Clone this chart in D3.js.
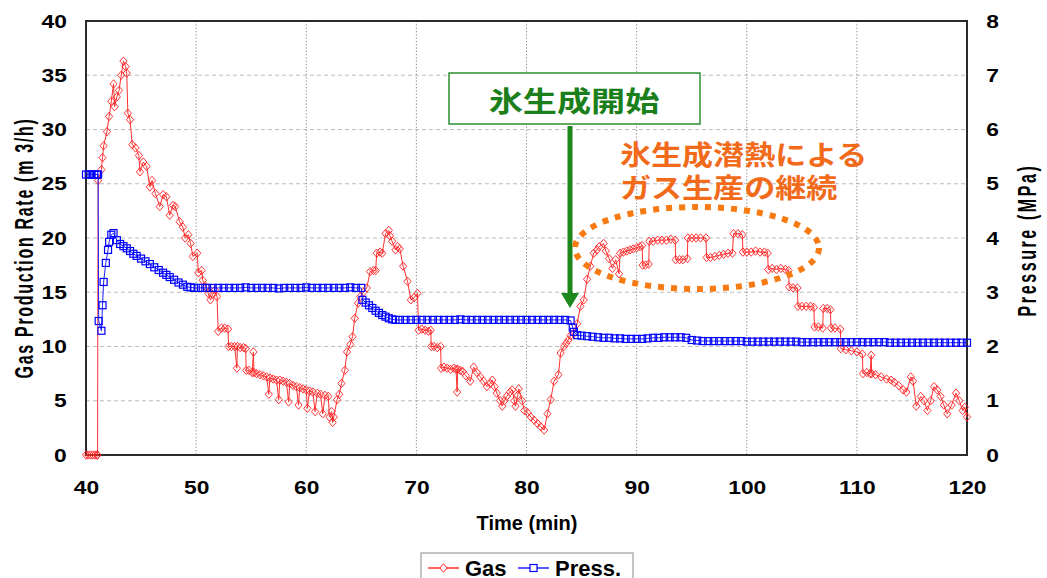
<!DOCTYPE html>
<html>
<head>
<meta charset="utf-8">
<script src="https://cdn.jsdelivr.net/npm/d3@7/dist/d3.min.js"></script>
<style>
  body { margin: 0; background: #fff; }
  text { font-family: 'Liberation Sans', Arial, sans-serif; font-weight: bold; }
  .jp { font-family: 'Noto Sans CJK JP', sans-serif; font-weight: bold; }
</style>
</head>
<body>
<script>
// time (min), gas production rate (m3/h)
const gasPoints = [
  [40.0, 0], [40.2, 0], [40.4, 0], [40.6, 0], [40.8, 0], [41.0, 0], [41.05, 0],
  [41.1, 25.3], [41.4, 26.3], [41.5, 27.4], [41.6, 28.5], [41.9, 29.8], [42.1, 31.2], [42.3, 32.6],
  [42.5, 34.2], [42.6, 32.1], [42.8, 33.0], [43.0, 33.6], [43.2, 35.0], [43.4, 36.3], [43.6, 35.8],
  [43.7, 35.2], [43.8, 31.5], [44.0, 30.9], [44.2, 28.6], [44.5, 28.3], [44.8, 27.6], [44.9, 26.1],
  [45.2, 27.0], [45.5, 26.6], [45.8, 24.7], [46.0, 25.3], [46.3, 24.1], [46.7, 22.9], [47.0, 24.0],
  [47.3, 23.8], [47.6, 22.1], [47.9, 23.0], [48.1, 22.9], [48.5, 21.5], [48.8, 21.0], [49.0, 20.0],
  [49.3, 20.3], [49.5, 19.5], [49.7, 18.3], [50.1, 18.6], [50.2, 16.8], [50.5, 17.0], [50.6, 16.1],
  [50.9, 15.5], [51.1, 14.9], [51.3, 14.3], [51.5, 14.8], [51.7, 15.2], [51.9, 14.6],
  [52.0, 11.4], [52.3, 11.7], [52.6, 11.7], [52.9, 11.6],
  [52.95, 10.0], [53.2, 10.0], [53.5, 10.0], [53.7, 8.0], [53.75, 10.0], [54.0, 9.9], [54.3, 9.9], [54.5, 9.8],
  [54.55, 7.8], [54.8, 7.8], [55.1, 7.6], [55.2, 9.5], [55.25, 7.6], [55.5, 7.5], [55.8, 7.4], [56.1, 7.3],
  [56.4, 7.2], [56.6, 5.6], [56.7, 7.1], [57.0, 7.0], [57.3, 6.9], [57.5, 5.1], [57.6, 6.9], [57.9, 6.8],
  [58.2, 6.7], [58.4, 4.9], [58.5, 6.6], [58.8, 6.4], [59.1, 6.3], [59.3, 4.6], [59.4, 6.2], [59.7, 6.1],
  [60.0, 6.0], [60.1, 4.3], [60.3, 5.9], [60.6, 5.8], [60.8, 4.0], [61.0, 5.7], [61.3, 5.6], [61.5, 3.8],
  [61.7, 5.5], [62.0, 5.4], [62.1, 3.5], [62.3, 4.0], [62.4, 3.0], [62.5, 3.5],
  [62.8, 5.1], [63.0, 5.6], [63.2, 6.6], [63.5, 7.8], [63.7, 9.5], [64.0, 10.2], [64.2, 10.9], [64.4, 12.6],
  [64.7, 14.0], [64.9, 14.6], [65.2, 15.0], [65.5, 15.4], [65.8, 16.9], [66.1, 17.0], [66.3, 17.0],
  [66.4, 18.6], [66.7, 18.7], [66.9, 18.6], [67.2, 20.4], [67.5, 20.7], [67.6, 20.2], [67.8, 19.7],
  [68.1, 18.9], [68.3, 19.2], [68.5, 19.0], [68.8, 17.4], [69.2, 16.0], [69.5, 14.3], [69.8, 14.5],
  [70.1, 14.9], [70.2, 11.5], [70.5, 11.6], [70.8, 11.5], [71.1, 11.4], [71.3, 11.5],
  [71.35, 10.0], [71.6, 10.0], [71.9, 9.9], [72.2, 10.0],
  [72.25, 8.0], [72.5, 8.1], [72.8, 8.0], [73.1, 7.9], [73.4, 8.0], [73.6, 7.9], [73.7, 5.8], [73.75, 7.9],
  [74.0, 7.8], [74.2, 7.7], [74.5, 7.3], [74.9, 6.8], [75.2, 8.1], [75.5, 7.6], [75.8, 7.2], [76.1, 6.8],
  [76.4, 6.3], [76.7, 6.6], [76.9, 6.9], [77.1, 6.3], [77.3, 5.7], [77.6, 5.0], [77.8, 4.5], [78.0, 5.0],
  [78.2, 5.4], [78.5, 5.8], [78.7, 6.0], [78.9, 5.0], [79.0, 4.5], [79.2, 5.5], [79.3, 6.1], [79.6, 5.0],
  [79.8, 4.1], [80.1, 3.9], [80.4, 3.5], [80.7, 3.2], [81.0, 2.9], [81.3, 2.6], [81.6, 2.3],
  [81.9, 3.8], [82.2, 5.1], [82.5, 6.8], [82.9, 7.4], [83.1, 9.4], [83.4, 10.0], [83.6, 10.3], [83.8, 10.6],
  [84.0, 11.0], [84.3, 11.2], [84.6, 12.1], [84.9, 13.7], [85.2, 14.3], [85.5, 16.2], [85.8, 17.4],
  [86.1, 18.6], [86.4, 18.9], [86.6, 19.2], [87.0, 19.5], [87.2, 18.8], [87.5, 18.1], [87.8, 17.2],
  [88.1, 18.0], [88.4, 16.7], [88.5, 18.6], [88.8, 18.7], [89.1, 18.8], [89.4, 18.9], [89.7, 19.0],
  [90.0, 19.1], [90.3, 19.2], [90.5, 19.3], [90.55, 17.5], [90.8, 17.5], [91.1, 17.6],
  [91.15, 19.7], [91.5, 19.7], [91.9, 19.8], [92.3, 19.8], [92.7, 19.8], [93.1, 19.9], [93.5, 19.8],
  [93.55, 18.0], [93.9, 18.0], [94.2, 18.0], [94.6, 18.1],
  [94.65, 20.0], [95.0, 20.0], [95.4, 20.0], [95.8, 20.0], [96.3, 20.0],
  [96.35, 18.2], [96.7, 18.2], [97.1, 18.3], [97.5, 18.4], [97.9, 18.5], [98.3, 18.6], [98.7, 18.6],
  [98.8, 20.4], [99.2, 20.4], [99.6, 20.3],
  [99.65, 18.7], [100.0, 18.7], [100.4, 18.7], [100.8, 18.8], [101.2, 18.7], [101.6, 18.7], [101.9, 18.6],
  [101.95, 17.1], [102.3, 17.2], [102.7, 17.1], [103.1, 17.2], [103.5, 17.1], [103.8, 17.0],
  [103.85, 15.5], [104.2, 15.4], [104.6, 15.4],
  [104.65, 13.7], [105.0, 13.7], [105.4, 13.7], [105.8, 13.7], [106.1, 13.6],
  [106.15, 11.8], [106.5, 11.8], [106.9, 11.7], [106.95, 13.5], [107.3, 13.5], [107.6, 13.4],
  [107.65, 11.7], [108.0, 11.7], [108.5, 11.6],
  [108.55, 9.8], [109.0, 9.7], [109.5, 9.6], [110.0, 9.5], [110.5, 9.3],
  [110.55, 7.5], [110.9, 7.6], [111.2, 7.5], [111.3, 9.2], [111.35, 7.5], [111.7, 7.4], [112.2, 7.2],
  [112.7, 7.0], [113.1, 6.9], [113.4, 6.7], [113.8, 6.4], [114.2, 6.0], [114.5, 5.8], [114.9, 7.2],
  [115.1, 6.8], [115.4, 4.5], [115.8, 5.4], [116.1, 5.0], [116.4, 4.1], [116.7, 5.0], [117.0, 6.3],
  [117.3, 6.0], [117.6, 5.4], [117.9, 4.6], [118.2, 3.8], [118.6, 4.6], [119.0, 5.7], [119.3, 5.0],
  [119.6, 4.1], [119.8, 4.4], [120.0, 3.5]
]

// time (min), pressure (MPa)
const pressPoints = [
  [40.0, 5.17], [40.25, 5.17], [40.5, 5.17], [40.75, 5.17], [41.0, 5.17], [41.1, 5.17],
  [41.15, 2.47], [41.4, 2.29], [41.5, 2.76], [41.6, 3.19], [41.8, 3.54], [42.0, 3.78], [42.1, 3.93],
  [42.3, 4.06], [42.5, 4.09], [42.8, 3.96], [43.1, 3.89], [43.4, 3.85], [43.7, 3.81], [44.0, 3.76],
  [44.3, 3.71], [44.6, 3.67], [45.0, 3.62], [45.4, 3.57], [45.8, 3.52], [46.2, 3.46], [46.6, 3.41],
  [47.0, 3.36], [47.3, 3.32], [47.6, 3.28], [48.0, 3.23], [48.4, 3.18], [48.8, 3.14], [49.2, 3.10],
  [49.5, 3.09], [49.8, 3.08], [50.2, 3.08], [50.6, 3.08], [51.0, 3.08], [51.5, 3.08], [52.0, 3.08],
  [52.5, 3.08], [53.0, 3.08], [53.5, 3.08], [54.0, 3.08], [54.5, 3.09], [55.0, 3.08], [55.5, 3.08],
  [56.0, 3.08], [56.5, 3.08], [57.0, 3.08], [57.5, 3.07], [58.0, 3.08], [58.5, 3.08], [59.0, 3.08],
  [59.5, 3.08], [60.0, 3.09], [60.5, 3.08], [61.0, 3.08], [61.5, 3.08], [62.0, 3.08], [62.5, 3.08],
  [63.0, 3.08], [63.5, 3.08], [64.0, 3.09], [64.5, 3.08], [65.0, 3.08],
  [65.1, 2.86], [65.4, 2.81], [65.7, 2.76], [66.0, 2.71], [66.3, 2.66], [66.6, 2.62], [66.9, 2.58],
  [67.2, 2.55], [67.5, 2.52], [67.8, 2.50], [68.1, 2.49], [68.5, 2.49], [69.0, 2.49], [69.5, 2.49],
  [70.0, 2.49], [70.5, 2.49], [71.0, 2.49], [71.5, 2.49], [72.0, 2.49], [72.5, 2.49], [73.0, 2.49],
  [73.5, 2.49], [74.0, 2.50], [74.5, 2.49], [75.0, 2.49], [75.5, 2.49], [76.0, 2.49], [76.5, 2.49],
  [77.0, 2.49], [77.5, 2.49], [78.0, 2.49], [78.5, 2.49], [79.0, 2.49], [79.5, 2.49], [80.0, 2.49],
  [80.5, 2.49], [81.0, 2.49], [81.5, 2.49], [82.0, 2.49], [82.5, 2.49], [83.0, 2.49], [83.5, 2.49],
  [84.0, 2.48], [84.2, 2.35], [84.3, 2.27], [84.6, 2.21], [85.0, 2.20], [85.5, 2.19], [86.0, 2.18],
  [86.5, 2.17], [87.0, 2.16], [87.5, 2.16], [88.0, 2.15], [88.5, 2.15], [89.0, 2.14], [89.5, 2.14],
  [90.0, 2.14], [90.5, 2.14], [91.0, 2.15], [91.5, 2.16], [92.0, 2.16], [92.5, 2.17], [93.0, 2.17],
  [93.5, 2.17], [94.0, 2.17], [94.5, 2.16], [95.0, 2.12], [95.5, 2.11], [96.0, 2.10], [96.5, 2.10],
  [97.0, 2.10], [97.5, 2.10], [98.0, 2.10], [98.5, 2.10], [99.0, 2.10], [99.5, 2.10], [100.0, 2.09],
  [100.5, 2.09], [101.0, 2.09], [101.5, 2.09], [102.0, 2.09], [102.5, 2.09], [103.0, 2.09], [103.5, 2.09],
  [104.0, 2.09], [104.5, 2.09], [105.0, 2.08], [105.5, 2.08], [106.0, 2.08], [106.5, 2.08], [107.0, 2.08],
  [107.5, 2.08], [108.0, 2.08], [108.5, 2.08], [109.0, 2.08], [109.5, 2.08], [110.0, 2.08], [110.5, 2.08],
  [111.0, 2.08], [111.5, 2.08], [112.0, 2.08], [112.5, 2.08], [113.0, 2.07], [113.5, 2.07], [114.0, 2.07],
  [114.5, 2.07], [115.0, 2.07], [115.5, 2.07], [116.0, 2.07], [116.5, 2.07], [117.0, 2.07], [117.5, 2.07],
  [118.0, 2.07], [118.5, 2.07], [119.0, 2.07], [119.5, 2.07], [120.0, 2.07]
]

const timeTicks = [40, 50, 60, 70, 80, 90, 100, 110, 120]
const gasTicks = [0, 5, 10, 15, 20, 25, 30, 35, 40]
const pressTicks = [0, 1, 2, 3, 4, 5, 6, 7, 8]
const seriesNames = ['Gas', 'Press.']

function main ({ w, h, left, right, top, bottom }) {
  const svg = d3.select('body')
    .append('svg')
    .attr('width', w)
    .attr('height', h)

  svg.append('rect')
    .attr('width', w)
    .attr('height', h)
    .attr('fill', '#fff')

  const x = d3.scaleLinear().domain([40, 120]).range([left, right])
  const yGas = d3.scaleLinear().domain([0, 40]).range([bottom, top])
  const yPress = d3.scaleLinear().domain([0, 8]).range([bottom, top])

  // grid
  svg.append('g')
    .selectAll('line')
    .data(gasTicks.slice(1, -1))
    .join('line')
    .attr('x1', left).attr('x2', right)
    .attr('y1', d => yGas(d)).attr('y2', d => yGas(d))
    .attr('stroke', '#bdbdbd')
    .attr('stroke-dasharray', '4,3')

  svg.append('g')
    .selectAll('line')
    .data(timeTicks.slice(1, -1))
    .join('line')
    .attr('x1', d => x(d)).attr('x2', d => x(d))
    .attr('y1', top).attr('y2', bottom)
    .attr('stroke', '#8c8c8c')
    .attr('stroke-dasharray', '1.3,2')

  // axes
  const stretch = 'scale(1.2,1)'
  const gL = svg.append('g')
    .attr('transform', `translate(${left},0)`)
    .call(d3.axisLeft(yGas).tickValues(gasTicks).tickSize(0).tickPadding(16))
  const gR = svg.append('g')
    .attr('transform', `translate(${right},0)`)
    .call(d3.axisRight(yPress).tickValues(pressTicks).tickSize(0).tickPadding(16))
  const gB = svg.append('g')
    .attr('transform', `translate(0,${bottom})`)
    .call(d3.axisBottom(x).tickValues(timeTicks).tickSize(0).tickPadding(26))

  ;[gL, gR, gB].forEach(g => {
    g.select('.domain').remove()
    g.selectAll('text')
      .attr('font-size', 19)
      .attr('font-family', "'Liberation Sans', Arial, sans-serif")
      .attr('font-weight', 'bold')
      .attr('fill', '#000')
      .attr('transform', stretch)
  })

  // frame
  svg.append('rect')
    .attr('x', left).attr('y', top)
    .attr('width', right - left).attr('height', bottom - top)
    .attr('fill', 'none')
    .attr('stroke', '#2b2b2b')
    .attr('stroke-width', 2)

  // axis titles
  svg.append('text')
    .attr('transform', 'translate(25,248) rotate(-90) scale(1,1.6)')
    .attr('text-anchor', 'middle')
    .attr('dominant-baseline', 'central')
    .attr('font-size', 16)
    .attr('letter-spacing', 1.7)
    .text('Gas Production Rate (m 3/h)')

  svg.append('text')
    .attr('transform', 'translate(1028,240) rotate(-90) scale(1,1.6)')
    .attr('text-anchor', 'middle')
    .attr('dominant-baseline', 'central')
    .attr('font-size', 16)
    .attr('letter-spacing', 2.6)
    .text('Pressure (MPa)')

  svg.append('text')
    .attr('x', 527).attr('y', 530)
    .attr('text-anchor', 'middle')
    .attr('font-size', 20)
    .text('Time (min)')

  // series
  const diamond = 'M0,-4.2L3.6,0L0,4.2L-3.6,0Z'
  const line = d3.line()

  svg.append('path')
    .datum(gasPoints)
    .attr('d', line.x(d => x(d[0])).y(d => yGas(d[1])))
    .attr('fill', 'none')
    .attr('stroke', '#ff3030')
    .attr('stroke-width', 1)

  svg.append('g')
    .selectAll('path')
    .data(gasPoints)
    .join('path')
    .attr('transform', d => `translate(${x(d[0])},${yGas(d[1])})`)
    .attr('d', diamond)
    .attr('fill', 'none')
    .attr('stroke', '#ff2020')
    .attr('stroke-width', 0.9)

  svg.append('path')
    .datum(pressPoints)
    .attr('d', d3.line().x(d => x(d[0])).y(d => yPress(d[1])))
    .attr('fill', 'none')
    .attr('stroke', '#2020ff')
    .attr('stroke-width', 1)

  svg.append('g')
    .selectAll('rect')
    .data(pressPoints)
    .join('rect')
    .attr('x', d => x(d[0]) - 3.5)
    .attr('y', d => yPress(d[1]) - 3.5)
    .attr('width', 7)
    .attr('height', 7)
    .attr('fill', 'none')
    .attr('stroke', '#0000ff')
    .attr('stroke-width', 1.2)

  // annotations
  svg.append('rect')
    .attr('x', 449).attr('y', 73)
    .attr('width', 251).attr('height', 51)
    .attr('fill', '#fff')
    .attr('stroke', '#2f8f2f')
    .attr('stroke-width', 1.5)

  svg.append('text')
    .attr('class', 'jp')
    .attr('transform', 'translate(574,100) scale(1.22,1)')
    .attr('text-anchor', 'middle')
    .attr('dominant-baseline', 'central')
    .attr('font-size', 28)
    .attr('fill', '#1b7f1b')
    .text('氷生成開始')

  svg.append('line')
    .attr('x1', 570).attr('x2', 570)
    .attr('y1', 126).attr('y2', 294)
    .attr('stroke', '#1d861d')
    .attr('stroke-width', 5)

  svg.append('path')
    .attr('d', 'M561,293L579,293L570,308Z')
    .attr('fill', '#1d861d')

  const orangeLines = ['氷生成潜熱による', 'ガス生産の継続']
  svg.append('g')
    .selectAll('text')
    .data(orangeLines)
    .join('text')
    .attr('class', 'jp')
    .attr('transform', (d, i) => `translate(620,${165 + i * 33}) scale(1.15,1)`)
    .attr('font-size', 27)
    .attr('fill', '#f26b1b')
    .text(d => d)

  svg.append('ellipse')
    .attr('cx', 697).attr('cy', 248)
    .attr('rx', 122).attr('ry', 41)
    .attr('fill', 'none')
    .attr('stroke', '#f77a12')
    .attr('stroke-width', 6)
    .attr('stroke-dasharray', '6,7')

  // legend
  const legend = svg.append('g')
  legend.append('rect')
    .attr('x', 421).attr('y', 553)
    .attr('width', 212).attr('height', 40)
    .attr('fill', '#fff')
    .attr('stroke', '#8a8a8a')

  const items = legend.selectAll('g')
    .data(seriesNames)
    .join('g')
    .attr('transform', (d, i) => `translate(${i === 0 ? 428 : 518},568)`)

  items.append('line')
    .attr('x1', 0).attr('x2', 31)
    .attr('stroke', (d, i) => i === 0 ? '#ff3030' : '#2020ff')
    .attr('stroke-width', 1.5)

  items.filter((d, i) => i === 0)
    .append('path')
    .attr('transform', 'translate(15.5,0)')
    .attr('d', diamond)
    .attr('fill', '#fff')
    .attr('stroke', '#ff2020')

  items.filter((d, i) => i === 1)
    .append('rect')
    .attr('x', 12).attr('y', -3.5)
    .attr('width', 7).attr('height', 7)
    .attr('fill', '#fff')
    .attr('stroke', '#0000ff')
    .attr('stroke-width', 1.2)

  items.append('text')
    .attr('x', 37).attr('y', 7.5)
    .attr('font-size', 22)
    .attr('fill', '#000')
    .text(d => d)
}

main({
  w: 1047,
  h: 578,
  left: 86,
  right: 967,
  top: 21,
  bottom: 455
})
</script>
</body>
</html>
